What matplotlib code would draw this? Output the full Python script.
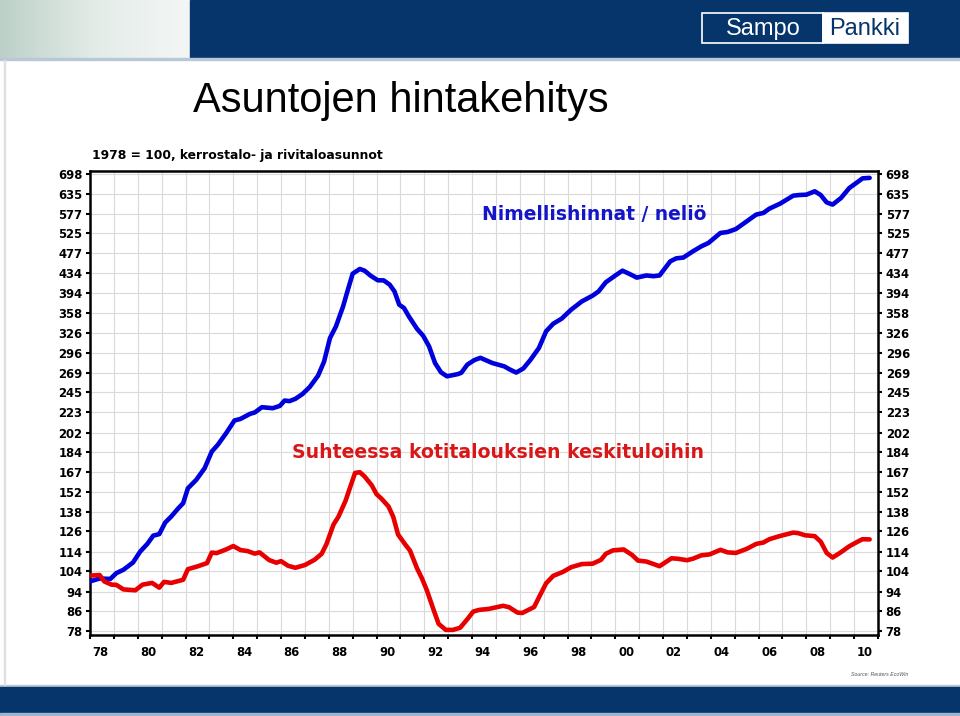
import numpy as np
import matplotlib
matplotlib.use("Agg")
import matplotlib.pyplot as plt
from matplotlib.patches import Rectangle
from matplotlib.ticker import FixedLocator, NullFormatter
from matplotlib.colors import LinearSegmentedColormap
from matplotlib.font_manager import FontProperties

# ---------------- data ----------------
blue_years = [1978.0, 1978.4, 1978.85, 1979.1, 1979.4, 1979.8, 1980.1, 1980.4, 1980.65, 1980.9,
              1981.15, 1981.4, 1981.7, 1981.9, 1982.1, 1982.45, 1982.8, 1983.1, 1983.35, 1983.7,
              1984.05, 1984.3, 1984.7, 1984.9, 1985.2, 1985.65, 1985.95, 1986.15, 1986.35, 1986.6,
              1986.9, 1987.2, 1987.55, 1987.8, 1988.05, 1988.3, 1988.6, 1988.8, 1989.0, 1989.3,
              1989.5, 1989.75, 1990.05, 1990.3, 1990.55, 1990.75, 1990.95, 1991.15, 1991.35, 1991.7,
              1991.95, 1992.2, 1992.45, 1992.7, 1992.95, 1993.4, 1993.55, 1993.8, 1994.1, 1994.35,
              1994.85, 1995.35, 1995.6, 1995.85, 1996.15, 1996.45, 1996.8, 1997.1, 1997.4, 1997.75,
              1998.15, 1998.6, 1999.05, 1999.3, 1999.6, 2000.05, 2000.3, 2000.6, 2000.9, 2001.3,
              2001.6, 2001.85, 2002.3, 2002.55, 2002.85, 2003.25, 2003.6, 2003.9, 2004.4, 2004.7,
              2005.05, 2005.5, 2005.9, 2006.2, 2006.45, 2006.9, 2007.45, 2007.7, 2008.0, 2008.35,
              2008.6, 2008.85, 2009.1, 2009.45, 2009.8, 2010.15, 2010.35, 2010.65]
blue_values = [98.9, 100.3, 100.1, 102.9, 104.6, 108.3, 114.1, 118.4, 123.2, 124.1,
               131.2, 135.0, 140.5, 143.9, 154.6, 161.0, 170.2, 184.4, 190.4, 201.3,
               214.0, 215.6, 220.9, 222.4, 228.1, 227.0, 229.5, 235.5, 234.8, 237.4,
               243.0, 251.2, 265.3, 283.6, 317.8, 336.0, 370.0, 400.7, 432.7, 442.6,
               438.9, 428.6, 419.2, 419.0, 410.5, 397.5, 372.9, 367.0, 352.7, 331.9,
               321.4, 305.3, 281.9, 269.6, 264.5, 267.3, 269.0, 279.7, 286.0, 289.0,
               281.9, 277.4, 273.0, 269.3, 274.7, 286.4, 303.0, 328.2, 340.4, 348.7,
               364.1, 378.9, 389.5, 397.5, 415.2, 430.6, 439.0, 432.0, 424.6, 429.0,
               427.5, 429.0, 459.0, 465.7, 467.5, 481.7, 493.3, 501.4, 526.0, 528.4,
               536.0, 556.0, 574.5, 579.0, 591.0, 605.4, 629.0, 631.0, 632.0, 642.3,
               631.0, 609.0, 602.7, 622.0, 652.6, 671.8, 683.4, 685.0]

red_years = [1978.0, 1978.4, 1978.6, 1978.9, 1979.1, 1979.4, 1979.9, 1980.2, 1980.6, 1980.9,
             1981.1, 1981.4, 1981.9, 1982.1, 1982.5, 1982.9, 1983.1, 1983.3, 1983.7, 1984.0,
             1984.3, 1984.6, 1984.9, 1985.1, 1985.5, 1985.8, 1986.0, 1986.3, 1986.6, 1987.0,
             1987.4, 1987.7, 1987.9, 1988.2, 1988.4, 1988.7, 1988.9, 1989.1, 1989.3, 1989.5,
             1989.8, 1990.0, 1990.2, 1990.5, 1990.7, 1990.9, 1991.2, 1991.4, 1991.7, 1991.9,
             1992.1, 1992.4, 1992.6, 1992.9, 1993.2, 1993.5, 1993.8, 1994.05, 1994.3, 1994.7,
             1995.3, 1995.55, 1995.9, 1996.1, 1996.6, 1996.8, 1997.1, 1997.4, 1997.8, 1998.15,
             1998.6, 1999.05, 1999.4, 1999.6, 1999.9, 2000.35, 2000.7, 2000.95, 2001.3, 2001.6,
             2001.85, 2002.35, 2002.6, 2003.0, 2003.25, 2003.6, 2003.95, 2004.4, 2004.7, 2005.05,
             2005.5, 2005.9, 2006.2, 2006.45, 2006.9, 2007.45, 2007.65, 2007.95, 2008.35, 2008.6,
             2008.85, 2009.1, 2009.45, 2009.8, 2010.15, 2010.35, 2010.65]
red_values = [101.7, 102.0, 98.9, 97.4, 97.3, 95.2, 94.8, 97.4, 98.2, 96.0,
              98.7, 98.2, 99.7, 104.9, 106.3, 108.0, 113.6, 113.3, 115.3, 117.2,
              115.0, 114.4, 113.0, 113.7, 109.6, 108.2, 109.0, 106.6, 105.6, 107.0,
              109.7, 112.9, 118.2, 130.0, 134.8, 145.5, 155.7, 166.4, 167.0, 163.6,
              156.8, 150.3, 147.2, 141.7, 134.8, 123.9, 118.1, 114.7, 105.2, 100.4,
              95.0, 86.0, 80.7, 78.4, 78.4, 79.2, 82.5, 85.6, 86.3, 86.7,
              88.0, 87.4, 85.2, 85.0, 87.5, 91.6, 98.0, 101.6, 103.5, 105.9,
              107.5, 107.7, 109.7, 112.9, 114.8, 115.3, 112.3, 109.3, 108.8, 107.5,
              106.4, 110.5, 110.3, 109.5, 110.3, 112.1, 112.6, 115.1, 113.7, 113.4,
              115.6, 118.4, 119.2, 121.1, 123.0, 125.0, 124.7, 123.4, 122.9, 119.7,
              113.4, 110.9, 113.8, 117.1, 119.7, 121.1, 121.0]

y_tick_labels = ["78", "86", "94", "104", "114", "126", "138", "152", "167", "184", "202", "223",
                 "245", "269", "296", "326", "358", "394", "434", "477", "525", "577", "635", "698"]
x_label_years = list(range(1978, 2011, 2))
x_tick_labels = [f"{y % 100:02d}" for y in x_label_years]

title = "Asuntojen hintakehitys"
subtitle = "1978 = 100, kerrostalo- ja rivitaloasunnot"
label_blue = "Nimellishinnat / neliö"
label_red = "Suhteessa kotitalouksien keskituloihin"
source = "Source: Reuters EcoWin"

# ---------------- figure ----------------
W, H = 960, 716
fig = plt.figure(figsize=(W / 100, H / 100), dpi=100)
fig.patch.set_facecolor("white")

def fx(x):
    return x / W

def fy(y):
    return 1 - y / H

NAVY = "#05356B"

# background decoration axes (pixel coordinates)
bg = fig.add_axes([0, 0, 1, 1], zorder=0)
bg.set_xlim(0, W)
bg.set_ylim(H, 0)
bg.axis("off")
grad = np.linspace(0, 1, 200)[None, :]
gcm = LinearSegmentedColormap.from_list("g", ["#BCD0C8", "#E4ECE8", "#F4F6F5"])
bg.imshow(grad, extent=[0, 190, 58, 0], aspect="auto", cmap=gcm, zorder=0)
bg.add_patch(Rectangle((190, 0), W - 190, 58, color=NAVY, zorder=1))
bg.add_patch(Rectangle((0, 58), W, 2, color="#B8C8D8", zorder=1))
# logo
bg.add_patch(Rectangle((702, 13), 121, 30, facecolor=NAVY, edgecolor="white", lw=1.2, zorder=2))
bg.add_patch(Rectangle((823, 13), 85, 30, facecolor="white", edgecolor="white", lw=1.2, zorder=2))
# bottom band
bg.add_patch(Rectangle((0, 685), W, 2, color="#B8C8D8", zorder=1))
bg.add_patch(Rectangle((0, 687), W, 27, color=NAVY, zorder=1))
bg.add_patch(Rectangle((0, 713), W, 3, color="#9DB5CF", zorder=1))
bg.add_patch(Rectangle((4, 60), 1, 625, color="#E0E0E0", zorder=1))

fig.text(fx(763), fy(29), "Sampo", color="white", fontsize=17, family="Liberation Sans",
         ha="center", va="center", zorder=3)
fig.text(fx(865), fy(29), "Pankki", color=NAVY, fontsize=17, family="Liberation Sans",
         ha="center", va="center", zorder=3)

fig.text(fx(193), fy(101), title, fontsize=30, family="Liberation Sans", ha="left", va="center")
fig.text(fx(92), fy(155), subtitle, fontsize=8.9, family="DejaVu Sans", fontweight="bold",
         ha="left", va="center")
fig.text(fx(851), fy(674), source, fontsize=3.8, style="italic", color="#555555",
         family="Liberation Sans", ha="left", va="center")

# ---------------- chart ----------------
L, R, T, B = 90, 878, 171, 635
ax = fig.add_axes([fx(L), fy(B), (R - L) / W, (B - T) / H], zorder=1)
ax.set_facecolor("white")
ax.set_yscale("log")
ax.set_ylim(76.5, 708.0)
ax.set_xlim(1978, 2011)

y_ticks = [float(v) for v in y_tick_labels]
ax.yaxis.set_major_locator(FixedLocator(y_ticks))
ax.yaxis.set_minor_locator(FixedLocator([]))
ax.set_yticklabels(y_tick_labels)
ax.yaxis.set_minor_formatter(NullFormatter())

ax.xaxis.set_major_locator(FixedLocator(list(range(1978, 2012))))
ax.xaxis.set_major_formatter(NullFormatter())
ax.xaxis.set_minor_locator(FixedLocator([y + 0.45 for y in x_label_years]))
ax.set_xticklabels(x_tick_labels, minor=True)

ax.grid(True, which="major", axis="both", color="#DADADA", lw=0.8, zorder=0)
ax.set_axisbelow(True)

tick_font = FontProperties(family="DejaVu Sans", weight="bold", size=8.4)
ax.tick_params(axis="y", which="major", direction="out", length=3, width=1.5,
               left=True, right=True, labelleft=True, labelright=True, pad=2.5)
for lab in ax.get_yticklabels():
    lab.set_fontproperties(tick_font)
ax.tick_params(axis="x", which="major", direction="out", length=3, width=1.5, bottom=True)
ax.tick_params(axis="x", which="minor", length=0, pad=8)
for lab in ax.get_xticklabels(minor=True):
    lab.set_fontproperties(tick_font)

for s in ax.spines.values():
    s.set_linewidth(1.8)
    s.set_color("black")

ax.plot(blue_years, blue_values, color="#0000DD", lw=3.3, solid_joinstyle="round",
        solid_capstyle="round", zorder=3)
ax.plot(red_years, red_values, color="#E80000", lw=3.3, solid_joinstyle="round",
        solid_capstyle="round", zorder=3)

fig.text(fx(482), fy(214), label_blue, color="#1414C8", fontsize=13.4, family="DejaVu Sans",
         fontweight="bold", ha="left", va="center", zorder=5)
fig.text(fx(292), fy(453), label_red, color="#D81818", fontsize=13.6, family="DejaVu Sans",
         fontweight="bold", ha="left", va="center", zorder=5)

fig.savefig("out.png", dpi=100)
